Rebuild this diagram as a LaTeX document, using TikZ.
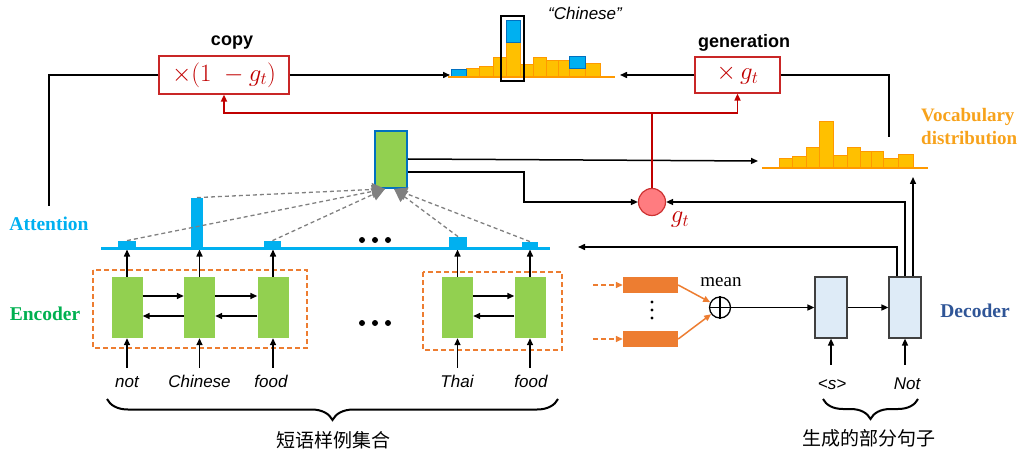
\documentclass[tikz,border=0pt]{standalone}
\usepackage{fontspec}
\setmainfont{Liberation Serif}
\setsansfont{Liberation Sans}
\newfontfamily\cjk{Noto Sans CJK SC}
\usetikzlibrary{arrows.meta,calc,decorations.pathreplacing}

\definecolor{encgreen}{HTML}{92D050}
\definecolor{enclabel}{HTML}{00B050}
\definecolor{attblue}{HTML}{00B0F0}
\definecolor{darkblue}{HTML}{0070C0}
\definecolor{decfill}{HTML}{DEEBF7}
\definecolor{declabel}{HTML}{2F5597}
\definecolor{gatered}{HTML}{C00000}
\definecolor{gatefill}{HTML}{FF7C80}
\definecolor{exorange}{HTML}{ED7D31}
\definecolor{histfill}{HTML}{FFC000}
\definecolor{histline}{HTML}{FF9900}
\definecolor{vocabtxt}{HTML}{F7A21B}

\begin{document}
\begin{tikzpicture}[x=1pt,y=-1pt,
  tip/.style={-{Triangle[length=7pt,width=6pt]}},
  wire/.style={line width=1.5pt,draw=black},
  redwire/.style={line width=1.6pt,draw=gatered},
  enc/.style={fill=encgreen,minimum width=31pt,minimum height=61pt,inner sep=0pt},
  dec/.style={fill=decfill,draw=black!75,line width=1.2pt,minimum width=32pt,minimum height=61pt,inner sep=0pt},
  gatebox/.style={draw=gatered!85,line width=1.2pt,text=gatered,inner sep=0pt},
  mathtxt/.style={font=\fontsize{23}{23}\selectfont},
  word/.style={font=\sffamily\itshape\fontsize{17}{17}\selectfont,text height=12pt,text depth=4pt,inner sep=0pt,anchor=base},
  boldlbl/.style={font=\bfseries\fontsize{19.5}{20}\selectfont},
  headlbl/.style={font=\sffamily\bfseries\fontsize{18}{18}\selectfont},
  cjklbl/.style={font=\cjk\fontsize{19}{19}\selectfont},
  attbar/.style={fill=attblue,inner sep=0pt,anchor=south},
  gray arrow/.style={draw=gray,dashed,dash pattern=on 4pt off 3pt,line width=1.3pt,-{Triangle[length=13pt,width=13pt,fill=gray]}},
  orangebox/.style={fill=exorange,minimum width=55pt,minimum height=16pt,inner sep=0pt},
  orangewire/.style={draw=exorange,line width=1.5pt,-{Triangle[length=7pt,width=6pt,fill=exorange]}},
  histbar/.style={fill=histfill,draw=histline,line width=1pt},
  bluebar/.style={fill=attblue,draw=darkblue,line width=1pt},
  bracestyle/.style={decorate,decoration={brace,mirror,amplitude=#1},line width=2pt},
  bracestyle/.default=21pt
]
\useasboundingbox (0,0) rectangle (1024,454);

% ---------------- encoder ----------------
\node[enc] (e1) at (127,307.5) {};
\node[enc] (e2) at (199.5,307.5) {};
\node[enc] (e3) at (273,307.5) {};
\node[enc] (e4) at (457.5,307.5) {};
\node[enc] (e5) at (530,307.5) {};

\draw[exorange,dashed,dash pattern=on 5pt off 3pt,line width=1.5pt] (93,270) rectangle (307,348);
\draw[exorange,dashed,dash pattern=on 5pt off 3pt,line width=1.5pt] (423,272) rectangle (562,350);

\foreach \a/\b in {e1/e2,e2/e3,e4/e5}{
  \draw[wire,tip] ([yshift=11.5pt]\a.east) -- ([yshift=11.5pt]\b.west);
  \draw[wire,tip] ([yshift=-8.5pt]\b.west) -- ([yshift=-8.5pt]\a.east);
}

\node[word] (w1) at (127,387) {not};
\node[word] (w2) at (199.5,387) {Chinese};
\node[word] (w3) at (271,387) {food};
\node[word] (w4) at (457,387) {Thai};
\node[word] (w5) at (531,387) {food};
\foreach \i in {1,...,5}{
  \draw[wire,tip] ([yshift=7pt]w\i.north -| e\i.south) -- (e\i.south);
}

% attention weights over the encoder states
\coordinate (attL) at (101,248);
\coordinate (attR) at (550,248);
\foreach \i in {1,...,5}{
  \draw[wire,tip] (e\i.north) -- ([yshift=-1.5pt]e\i.north |- attL);
}
\draw[attblue,line width=3pt] (attL) -- (attR);
\node[attbar,minimum width=18pt,minimum height=7pt] (a1) at (127,248) {};
\node[attbar,minimum width=12pt,minimum height=50pt] (a2) at (197,248) {};
\node[attbar,minimum width=17pt,minimum height=7pt] (a3) at (272.5,248) {};
\node[attbar,minimum width=18pt,minimum height=11pt] (a4) at (458,248) {};
\node[attbar,minimum width=16pt,minimum height=6pt] (a5) at (530,248) {};

\foreach \x in {362,375,388}{
  \fill (\x,240) circle (3pt);
  \fill (\x,323) circle (3pt);
}

\node[boldlbl,text=attblue] (attn) at (49,224) {Attention};
\node[boldlbl,text=enclabel] (enclbl) at (45,314) {Encoder};

% context vector
\node[fill=encgreen,draw=darkblue,line width=1.8pt,minimum width=32pt,minimum height=57pt,inner sep=0pt] (ctx) at (391,159.5) {};
\coordinate (ctxl) at ([xshift=-6pt]ctx.south);
\coordinate (ctxr) at ([xshift=3pt]ctx.south);
\draw[gray arrow] (a1.north) -- (ctxl);
\draw[gray arrow] (a2.north) -- (ctxl);
\draw[gray arrow] (a3.north) -- (ctxl);
\draw[gray arrow] (a4.north) -- (ctxr);
\draw[gray arrow] (a5.north) -- (ctxr);

\node[cjklbl] (phr) at (333,440) {短语样例集合};
\draw[bracestyle] (107,399) -- (558,399);

% ---------------- decoder ----------------
\node[orangebox] (o1) at (650.5,285) {};
\node[orangebox] (o2) at (650.5,339) {};
\coordinate (oin1) at (593,285);
\coordinate (oin2) at (593,339);
\draw[orangewire,dashed,dash pattern=on 5pt off 3pt] (oin1) -- (o1.west);
\draw[orangewire,dashed,dash pattern=on 5pt off 3pt] (oin2) -- (o2.west);
\foreach \y in {302,310,318} \fill (652,\y) circle (1.6pt);

\node[circle,draw,line width=1.3pt,minimum size=21pt,inner sep=0pt] (mix) at (720,307.5) {};
\draw[line width=1.3pt] (mix.north) -- (mix.south) (mix.west) -- (mix.east);
\node[font=\fontsize{19}{19}\selectfont] (meanlbl) at (721,282) {mean};
\draw[orangewire] (o1.east) -- (mix);
\draw[orangewire] (o2.east) -- (mix);

\node[dec] (d1) at (831,307.5) {};
\node[dec] (d2) at (905,307.5) {};
\draw[wire,tip] (mix.east) -- (d1.west);
\draw[wire,tip] (d1.east) -- (d2.west);

\node[word] (s0) at (832,389) {<s>};
\node[word] (s1) at (907,389) {Not};
\draw[wire,tip] ([yshift=12pt]s0.north -| d1.south) -- (d1.south);
\draw[wire,tip] ([yshift=12pt]s1.north -| d2.south) -- (d2.south);

\node[boldlbl,text=declabel] (declbl) at (975,311) {Decoder};
\node[cjklbl] (part) at (869,438) {生成的部分句子};
\draw[bracestyle=20pt] (823,399) -- (918,399);

% gate
\node[circle,fill=gatefill,draw=gatered!80,line width=1.2pt,minimum size=27pt,inner sep=0pt] (gate) at (652,202) {};
\node[text=gatered,mathtxt] (gtlbl) at (680,220) {$g_t$};

% decoder state fed back to attention, gate and output layer
\coordinate (attin) at (578,247);
\draw[wire,tip] ([xshift=-8pt]d2.north) |- (attin);
\draw[wire,tip] (d2.north) |- (gate.east);
\coordinate (vocB) at (913,177);
\draw[wire,tip] ([xshift=8pt]d2.north) -- (vocB);

% context vector to output layer and gate
\coordinate (vocL) at (758,161);
\draw[wire,tip] ([yshift=0.5pt]ctx.east) -- (vocL);
\draw[wire,tip] ([yshift=-12.5pt]ctx.east) -- ++(116,0) |- (gate.west);

% ---------------- vocabulary distribution ----------------
\foreach \xa/\xb/\yt in {779/792/159,792/806/157,806/819/148,819/833/122,833/847/156,847/860/148,860/871/152,871/883/152,883/898/159,898/913/155}
  \draw[histbar] (\xa,168) rectangle (\xb,\yt);
\draw[histline,line width=2pt] (762,168) -- (928,168);
\node[font=\bfseries\fontsize{19}{23}\selectfont,text=vocabtxt,align=left,anchor=west,inner sep=0pt] (voclbl) at (921,127) {Vocabulary\\distribution};

% ---------------- copy / generation mixing ----------------
\node[gatebox,minimum width=130pt,minimum height=38pt,mathtxt] (copy) at (224,75) {$\times(1\;-g_t)$};
\node[gatebox,minimum width=85pt,minimum height=36pt,mathtxt] (gen) at (737.5,75) {$\times\,g_t$};
\node[headlbl] (copylbl) at (232,43) {copy};
\node[headlbl] (genlbl) at (744,43) {generation};

\coordinate (attTop) at (49,206);
\draw[wire] (copy.west) -| (attTop);
\coordinate (histL) at (450,75);
\draw[wire,tip] (copy.east) -- (histL);

\coordinate (vocT) at (889,137);
\draw[wire] (gen.east) -| (vocT);
\coordinate (histR) at (620,75);
\draw[wire,tip] (gen.west) -- (histR);

\coordinate (rj) at (gate.north |- 0,113);
\draw[redwire] (gate.north) -- (rj);
\draw[redwire,tip] (rj) -| (copy.south);
\draw[redwire,tip] (rj) -| (gen.south);

% final mixed distribution
\foreach \xa/\xb/\yt in {466/479/69,479/493/67,493/506/58,506/520/43,520/533/65,533/546/58,546/558/61,558/569/61,569/585/69,585/600/64}
  \draw[histbar] (\xa,77) rectangle (\xb,\yt);
\draw[bluebar] (451,77) rectangle (466,70);
\draw[bluebar] (506,43) rectangle (520,21);
\draw[bluebar] (569,69) rectangle (585,57);
\draw[histline,line width=2pt] (448,77) -- (615,77);
\draw[line width=1.5pt] (501,16) rectangle (524,81);
\node[font=\sffamily\itshape\fontsize{17}{17}\selectfont] (chlbl) at (585,13) {“Chinese”};
\end{tikzpicture}
\end{document}
